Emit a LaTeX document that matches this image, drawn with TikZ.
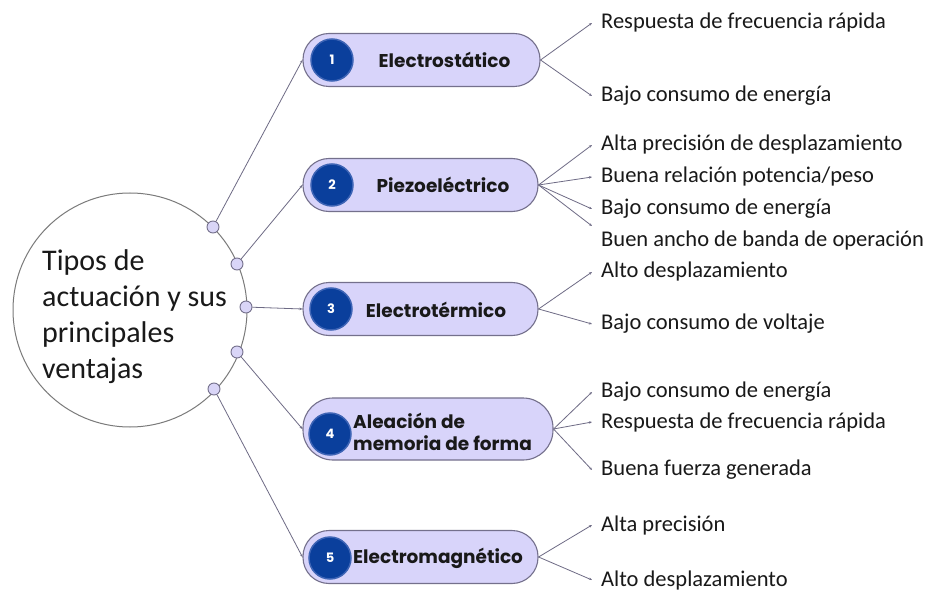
\documentclass[tikz,border=0pt]{standalone}
\usepackage{fontspec}
\setmainfont{Carlito}
\newfontfamily\pop{Poppins}
\usetikzlibrary{arrows.meta}
\definecolor{pillfill}{HTML}{D8D4FA}
\definecolor{pillborder}{HTML}{74708C}
\definecolor{numblue}{HTML}{0A3F9C}
\definecolor{numring}{HTML}{3D64B5}
\definecolor{dotfill}{HTML}{D9D5F7}
\definecolor{linecol}{HTML}{6E6B85}
\definecolor{maincol}{HTML}{7A7A7A}
\tikzset{
  pill/.style={draw=pillborder, fill=pillfill, line width=1.1pt, rounded corners=26pt, minimum height=53pt, inner sep=0pt},
  numc/.style={circle, fill=numblue, draw=numring, line width=1.5pt, minimum size=42pt, inner sep=0pt, text=white, font=\pop\bfseries\fontsize{13}{15}\selectfont},
  plabel/.style={font=\pop\bfseries\fontsize{18.5}{22}\selectfont, text=black!90, inner sep=0pt, align=left},
  dotc/.style={circle, fill=dotfill, draw=pillborder, line width=0.9pt, minimum size=12pt, inner sep=0pt},
  conn/.style={draw=linecol, line width=0.8pt, -{Stealth[length=3pt,width=2.5pt]}},
  rtext/.style={anchor=west, inner xsep=9pt, inner ysep=0pt, font=\fontsize{22.5}{26}\selectfont, text=black!90},
}
\begin{document}
\begin{tikzpicture}[x=1pt,y=-1pt]
\useasboundingbox[fill=white] (0,0) rectangle (935,591);
% main circle
\node[draw=maincol, line width=1pt, circle, minimum size=234pt, inner sep=0pt] (main) at (130,310) {};
\node[anchor=west, align=left, inner sep=0pt, font=\fontsize{30}{36}\selectfont, text=black!90] (maintext) at (42,317) {Tipos de\\actuación y sus\\principales\\ventajas};
% dots
\node[dotc] (s1) at (213,227) {};
\node[dotc] (s2) at (237,264) {};
\node[dotc] (s3) at (246,307) {};
\node[dotc] (s4) at (237,352) {};
\node[dotc] (s5) at (214,389) {};
% pills
\node[pill, minimum width=237pt] (p1) at (421.5,60) {};
\node[pill, minimum width=235pt] (p2) at (420.5,185) {};
\node[pill, minimum width=235pt] (p3) at (420.5,309) {};
\node[pill, minimum width=250pt, minimum height=62pt, rounded corners=30pt] (p4) at (428,429) {};
\node[pill, minimum width=235pt] (p5) at (420.5,557) {};
% numbers
\node[numc] (n1) at (332,60) {1};
\node[numc] (n2) at (332,185) {2};
\node[numc] (n3) at (331,309) {3};
\node[numc] (n4) at (330,434) {4};
\node[numc] (n5) at (330,558) {5};
% pill labels
\node[plabel] (l1) at (444.5,60) {Electrostático};
\node[plabel] (l2) at (443,185) {Piezoeléctrico};
\node[plabel] (l3) at (436,310) {Electrotérmico};
\node[plabel, anchor=west] (l4) at (353,432) {Aleación de\\memoria de forma};
\node[plabel, anchor=west] (l5) at (353,558) {Electromagnético};
% left connectors
\draw[conn] (s1) -- (p1.west);
\draw[conn] (s2) -- (p2.west);
\draw[conn] (s3) -- (p3.west);
\draw[conn] (s4) -- (p4.west);
\draw[conn] (s5) -- (p5.west);
% right texts
\node[rtext] (t11) at (592,23) {Respuesta de frecuencia rápida};
\node[rtext] (t12) at (592,96) {Bajo consumo de energía};
\node[rtext] (t21) at (592,145) {Alta precisión de desplazamiento};
\node[rtext] (t22) at (592,177) {Buena relación potencia/peso};
\node[rtext] (t23) at (592,209) {Bajo consumo de energía};
\node[rtext] (t24) at (592,241) {Buen ancho de banda de operación};
\node[rtext] (t31) at (592,272) {Alto desplazamiento};
\node[rtext] (t32) at (592,324) {Bajo consumo de voltaje};
\node[rtext] (t41) at (592,392) {Bajo consumo de energía};
\node[rtext] (t42) at (592,422) {Respuesta de frecuencia rápida};
\node[rtext] (t43) at (592,470) {Buena fuerza generada};
\node[rtext] (t51) at (592,525) {Alta precisión};
\node[rtext] (t52) at (592,580) {Alto desplazamiento};
\coordinate (c24) at (592,226);
% right connectors
\draw[conn] (p1.east) -- (t11.west);
\draw[conn] (p1.east) -- (t12.west);
\draw[conn] (p2.east) -- (t21.west);
\draw[conn] (p2.east) -- (t22.west);
\draw[conn] (p2.east) -- (t23.west);
\draw[conn] (p2.east) -- (c24);
\draw[conn] (p3.east) -- (t31.west);
\draw[conn] (p3.east) -- (t32.west);
\draw[conn] (p4.east) -- (t41.west);
\draw[conn] (p4.east) -- (t42.west);
\draw[conn] (p4.east) -- (t43.west);
\draw[conn] (p5.east) -- (t51.west);
\draw[conn] (p5.east) -- (t52.west);
\end{tikzpicture}
\end{document}
